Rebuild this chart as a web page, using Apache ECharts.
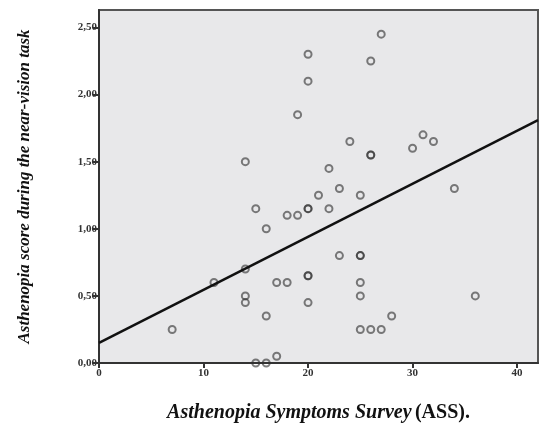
<!DOCTYPE html>
<html>
<head>
    <meta charset="utf-8">
    <title>Asthenopia scatter</title>
    <script src="https://cdn.jsdelivr.net/npm/echarts@6/dist/echarts.min.js"></script>
    <style>
        body { margin: 0; background: #fff; }
    </style>
</head>
<body>
<div id="main" style="width: 540px;height:428px;"></div>
<script type="text/javascript">
    // ASS score (x) and asthenopia score during the near-vision task (y)
    var assScores = [7, 11, 14, 14, 14, 14, 15, 15, 16, 16, 16, 17, 17, 18, 18, 19, 19,
        20, 20, 20, 20, 20, 20, 20, 21, 22, 22, 23, 23, 24, 25, 25, 25, 25, 25, 25,
        26, 26, 26, 26, 27, 27, 28, 30, 31, 32, 34, 36];
    var nearTaskScores = [0.25, 0.60, 1.50, 0.70, 0.50, 0.45, 1.15, 0.00, 1.00, 0.35, 0.00, 0.60, 0.05, 1.10, 0.60, 1.85, 1.10,
        2.30, 2.10, 1.15, 1.15, 0.65, 0.65, 0.45, 1.25, 1.45, 1.15, 1.30, 0.80, 1.65, 1.25, 0.80, 0.80, 0.60, 0.50, 0.25,
        2.25, 1.55, 1.55, 0.25, 2.45, 0.25, 0.35, 1.60, 1.70, 1.65, 1.30, 0.50];

    // fit line
    var fitIntercept = 0.15;
    var fitSlope = 0.0395;

    var xTicks = [0, 10, 20, 30, 40];
    var yTicks = [0, 0.5, 1, 1.5, 2, 2.5];
    var xMax = 42, yMax = 2.63;

    var points = [];
    for (var i = 0; i < assScores.length; i++) {
        points.push([assScores[i], nearTaskScores[i]]);
    }
    var fitLine = [[0, fitIntercept], [xMax, fitIntercept + fitSlope * xMax]];

    var labelFont = {
        color: '#333',
        fontSize: 11,
        fontWeight: 'bold',
        fontFamily: 'Liberation Serif'
    };

    var myChart = echarts.init(document.getElementById('main'));
    var option = {
        animation: false,
        backgroundColor: '#fff',
        grid: {
            left: 99, top: 10, right: 2, bottom: 65,
            show: true,
            backgroundColor: '#e8e8ea',
            borderColor: '#555',
            borderWidth: 2
        },
        xAxis: {
            type: 'value',
            min: 0, max: xMax, interval: 10,
            name: '{i|Asthenopia Symptoms Survey} {n|(ASS).}',
            nameLocation: 'middle',
            nameGap: 40,
            nameTextStyle: {
                rich: {
                    i: { fontFamily: 'Liberation Serif', fontStyle: 'italic', fontWeight: 'bold', fontSize: 20, color: '#111' },
                    n: { fontFamily: 'Liberation Serif', fontWeight: 'bold', fontSize: 20, color: '#111' }
                }
            },
            splitLine: { show: false },
            axisLine: { onZero: false, lineStyle: { color: '#333', width: 2 } },
            axisTick: { show: true, length: 5, lineStyle: { color: '#333', width: 2 },
                customValues: xTicks },
            axisLabel: Object.assign({ margin: 5, customValues: xTicks,
                formatter: function (v) { return String(v); } }, labelFont)
        },
        yAxis: {
            type: 'value',
            min: 0, max: yMax, interval: 0.5,
            name: 'Asthenopia score during the near-vision task',
            nameLocation: 'middle',
            nameRotate: 90,
            nameGap: 66,
            nameTextStyle: {
                fontFamily: 'Liberation Serif', fontStyle: 'italic', fontWeight: 'bold',
                fontSize: 17, color: '#111'
            },
            splitLine: { show: false },
            axisLine: { show: true, onZero: false, lineStyle: { color: '#333', width: 2 } },
            axisTick: { show: true, length: 6, lineStyle: { color: '#333', width: 2 },
                customValues: yTicks },
            axisLabel: Object.assign({ margin: 2, customValues: yTicks,
                formatter: function (v) { return v.toFixed(2).replace('.', ','); } }, labelFont)
        },
        series: [{
            type: 'scatter',
            data: points,
            symbol: 'circle',
            symbolSize: 7,
            itemStyle: {
                color: 'rgba(0,0,0,0)',
                borderColor: 'rgba(50,50,50,0.78)',
                borderWidth: 2
            },
            z: 3
        }, {
            type: 'line',
            data: fitLine,
            symbol: 'none',
            lineStyle: { color: '#111', width: 2.5 },
            z: 4
        }]
    };
    myChart.setOption(option);
</script>
</body>
</html>
